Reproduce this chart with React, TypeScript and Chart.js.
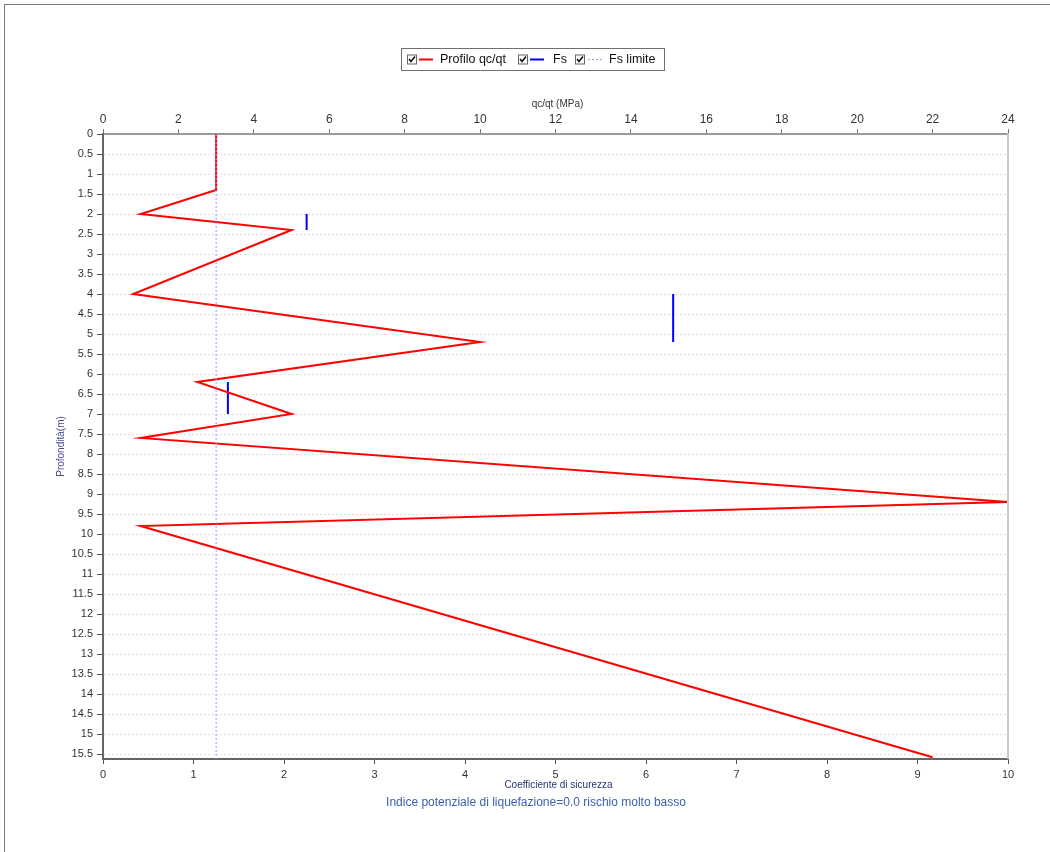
import React, { useEffect, useRef } from "react";
import { Chart, registerables } from "chart.js";

Chart.register(...registerables);

// ---- data ----
const profileDepth = [0, 1.4, 2.0, 2.4, 4.0, 5.2, 6.2, 7.0, 7.6, 9.2, 9.8, 15.58];
const profileQc = [3.0, 3.0, 1.0, 5.0, 0.8, 10.0, 2.5, 5.0, 1.0, 24.0, 1.0, 22.0];

const fsValues = [2.25, 6.3, 1.38];
const fsDepthTop = [2.0, 4.0, 6.2];
const fsDepthBottom = [2.4, 5.2, 7.0];

const fsLimitValue = 1.25;
const fsLimitDepths = [0, 15.625];

const depthTicks = Array.from({ length: 32 }, (_, i) => i * 0.5);
const depthTickLabels = depthTicks.map((v) => String(v));

const legendLabels = ["Profilo qc/qt", "Fs", "Fs limite"];
const topAxisTitle = "qc/qt (MPa)";
const bottomAxisTitle = "Coefficiente di sicurezza";
const leftAxisTitle = "Profondità(m)";
const footerText = "Indice potenziale di liquefazione=0.0 rischio molto basso";

const FONT = '"Liberation Sans", Arial, sans-serif';

const decorPlugin = {
  id: "decor",
  afterDatasetsDraw(chart: any) {
    const { ctx, chartArea } = chart;
    ctx.save();
    ctx.strokeStyle = "#c8c8c8";
    ctx.lineWidth = 2;
    ctx.beginPath();
    ctx.moveTo(chartArea.right, chartArea.top - 1);
    ctx.lineTo(chartArea.right, chartArea.bottom);
    ctx.stroke();
    ctx.restore();
  },
  afterDraw(chart: any) {
    const { ctx, chartArea } = chart;
    const cx = (chartArea.left + chartArea.right) / 2;
    ctx.save();
    ctx.textAlign = "center";
    ctx.textBaseline = "middle";
    ctx.font = `10px ${FONT}`;
    ctx.fillStyle = "#333333";
    ctx.fillText(topAxisTitle, cx + 2, 104);
    ctx.fillStyle = "#2a3570";
    ctx.fillText(bottomAxisTitle, cx + 3, 785);
    ctx.save();
    ctx.translate(61, (chartArea.top + chartArea.bottom) / 2);
    ctx.rotate(-Math.PI / 2);
    ctx.fillStyle = "#4a4a94";
    ctx.fillText(leftAxisTitle, 0, 0);
    ctx.restore();
    ctx.font = `12px ${FONT}`;
    ctx.fillStyle = "#3a5fb0";
    ctx.fillText(footerText, 536, 803);

    // legend box
    const bx = 401, by = 48, bw = 263, bh = 22;
    ctx.fillStyle = "#ffffff";
    ctx.fillRect(bx, by, bw, bh);
    ctx.strokeStyle = "#707070";
    ctx.lineWidth = 1;
    ctx.strokeRect(bx + 0.5, by + 0.5, bw, bh);
    const items = [
      { cbx: 407, lx0: 419, lx1: 433, tx: 440, color: "#ff0000", dash: [] as number[], lw: 2 },
      { cbx: 518, lx0: 530, lx1: 544, tx: 553, color: "#0000ff", dash: [] as number[], lw: 2 },
      { cbx: 575, lx0: 588, lx1: 603, tx: 609, color: "#9a9aff", dash: [2, 2], lw: 1 },
    ];
    const cy = 59.5;
    items.forEach((it, i) => {
      ctx.setLineDash([]);
      ctx.strokeStyle = "#666666";
      ctx.lineWidth = 1;
      ctx.fillStyle = "#ffffff";
      ctx.fillRect(it.cbx, cy - 5, 10, 10);
      ctx.strokeRect(it.cbx + 0.5, cy - 4.5, 9, 9);
      ctx.strokeStyle = "#111111";
      ctx.lineWidth = 1.6;
      ctx.beginPath();
      ctx.moveTo(it.cbx + 2, cy - 0.5);
      ctx.lineTo(it.cbx + 4, cy + 2);
      ctx.lineTo(it.cbx + 8, cy - 3);
      ctx.stroke();
      ctx.strokeStyle = it.color;
      ctx.lineWidth = it.lw;
      ctx.setLineDash(it.dash);
      ctx.beginPath();
      ctx.moveTo(it.lx0, cy);
      ctx.lineTo(it.lx1, cy);
      ctx.stroke();
      ctx.setLineDash([]);
      ctx.font = `12.5px ${FONT}`;
      ctx.fillStyle = "#111111";
      ctx.textAlign = "left";
      ctx.fillText(legendLabels[i], it.tx, cy + 0.5);
    });
    ctx.restore();
  },
};

export default function App() {
  const ref = useRef<HTMLCanvasElement | null>(null);

  useEffect(() => {
    if (!ref.current) return;
    Chart.defaults.font.family = FONT;

    const profileData = profileDepth.map((d, i) => ({ x: profileQc[i], y: d }));
    const fsData: { x: number; y: number }[] = [];
    fsValues.forEach((v, i) => {
      if (i > 0) fsData.push({ x: NaN, y: NaN });
      fsData.push({ x: v, y: fsDepthTop[i] });
      fsData.push({ x: v, y: fsDepthBottom[i] });
    });
    const limitData = fsLimitDepths.map((d) => ({ x: fsLimitValue, y: d }));

    const chart = new Chart(ref.current, {
      type: "scatter",
      data: {
        datasets: [
          {
            label: legendLabels[2],
            data: limitData,
            xAxisID: "x",
            yAxisID: "y",
            showLine: true,
            borderColor: "#9a9aff",
            borderWidth: 1,
            borderDash: [2, 2],
            pointRadius: 0,
          },
          {
            label: legendLabels[0],
            data: profileData,
            xAxisID: "x2",
            yAxisID: "y",
            showLine: true,
            borderColor: "#ff0000",
            borderWidth: 2,
            pointRadius: 0,
          },
          {
            label: legendLabels[1],
            data: fsData,
            xAxisID: "x",
            yAxisID: "y",
            showLine: true,
            spanGaps: false,
            borderColor: "#0000ff",
            borderWidth: 2,
            pointRadius: 0,
          },
        ],
      },
      options: {
        animation: false,
        responsive: false,
        devicePixelRatio: 1,
        layout: { padding: { left: 0, right: 42, top: 0, bottom: 0 } },
        plugins: {
          legend: { display: false },
          tooltip: { enabled: false },
          title: { display: false },
        },
        scales: {
          x: {
            type: "linear",
            position: "bottom",
            min: 0,
            max: 10,
            ticks: { stepSize: 1, color: "#333333", font: { size: 11 }, padding: 4, maxRotation: 0 },
            grid: { drawOnChartArea: false, drawTicks: true, tickLength: 5, tickColor: "#555555", tickWidth: 1 },
            border: { display: true, color: "#666666", width: 2 },
            afterFit: (s: any) => {
              s.height = 93;
            },
          },
          x2: {
            type: "linear",
            position: "top",
            min: 0,
            max: 24,
            ticks: { stepSize: 2, color: "#333333", font: { size: 12 }, padding: 2, maxRotation: 0 },
            grid: { drawOnChartArea: false, drawTicks: true, tickLength: 5, tickColor: "#777777", tickWidth: 1 },
            border: { display: true, color: "#999999", width: 2 },
            afterFit: (s: any) => {
              s.height = 134;
            },
          },
          y: {
            type: "linear",
            position: "left",
            reverse: true,
            min: 0,
            max: 15.625,
            afterBuildTicks: (s: any) => {
              s.ticks = depthTicks.map((v) => ({ value: v }));
            },
            ticks: {
              autoSkip: false,
              color: "#333333",
              font: { size: 11 },
              padding: 4,
              callback: (_v: any, i: number) => depthTickLabels[i],
            },
            grid: {
              drawOnChartArea: true,
              color: "#dedede",
              lineWidth: 1,
              tickBorderDash: [],
              tickColor: "#555555",
              tickLength: 6,
              tickWidth: 1,
            } as any,
            border: { display: true, color: "#666666", width: 2, dash: [2, 2] } as any,
            afterFit: (s: any) => {
              s.width = 103;
            },
          },
        },
      } as any,
      plugins: [decorPlugin],
    });

    return () => chart.destroy();
  }, []);

  return (
    <>
      <div
        style={{
          position: "fixed",
          left: 4,
          top: 4,
          right: 0,
          bottom: 0,
          borderTop: "1px solid #7a7a7a",
          borderLeft: "1px solid #7a7a7a",
        }}
      />
      <canvas
        ref={ref}
        width={1050}
        height={852}
        style={{ position: "fixed", left: 0, top: 0, width: 1050, height: 852 }}
      />
    </>
  );
}
